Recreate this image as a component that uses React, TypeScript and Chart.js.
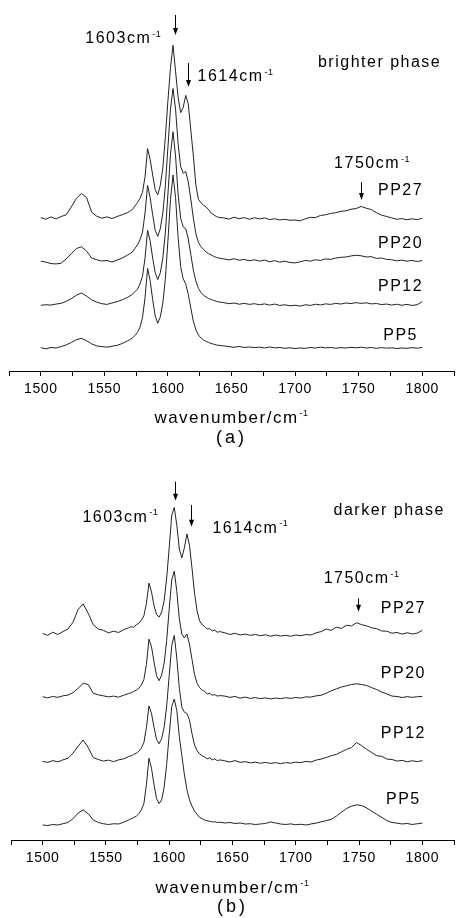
import React, { useEffect, useRef } from "react";
import { Chart, registerables } from "chart.js";

Chart.register(...registerables);

// ---------- data ----------
const wavenumbers = [
  1500, 1504, 1508, 1512, 1516, 1520, 1524, 1528, 1532, 1536, 1540, 1544, 1548, 1552, 1556, 1560, 1564, 1568,
  1570, 1572, 1574, 1576, 1578, 1580, 1582, 1584, 1586, 1588, 1590, 1592, 1594, 1596, 1598, 1600, 1602, 1604,
  1606, 1608, 1610, 1612, 1614, 1616, 1618, 1620, 1622, 1624, 1626, 1628, 1630, 1632, 1634, 1636, 1638, 1640,
  1644, 1648, 1652, 1656, 1660, 1664, 1668, 1672, 1676, 1680, 1684, 1688, 1692, 1696, 1700, 1704, 1708, 1712,
  1716, 1720, 1724, 1728, 1732, 1736, 1740, 1744, 1748, 1752, 1756, 1760, 1764, 1768, 1772, 1776, 1780, 1784,
  1788, 1792, 1796, 1800,
];

const seriesNames = ["PP27", "PP20", "PP12", "PP5"];

// brighter phase (a)
const brightPP27 = [
  0.4, -0.6, 0.8, -0.4, 1.0, 2.0, 6.5, 11.5, 14.3, 12.0, 3.5, 1.2, 0.0, 0.8, -0.2, 1.0, 2.0, 3.2,
  4.0, 5.0, 7.0, 9.0, 11.5, 15.0, 24.0, 40.3, 34.0, 25.0, 16.5, 13.5, 19.0, 29.0, 47.0, 68.0, 87.0, 100.0,
  85.0, 70.0, 61.0, 64.0, 71.0, 66.0, 51.0, 36.0, 19.0, 11.0, 9.0, 7.5, 6.5, 5.0, 3.0, 2.0, 1.0, 0.5,
  0.2, -0.5, 0.6, -0.3, 0.4, -0.6, 0.3, -0.4, 0.2, -0.8, -0.3, -1.0, -0.6, -1.2, -1.0, -1.5, -0.3, 0.5,
  0.4, 1.6, 2.0, 2.8, 3.2, 4.0, 4.3, 5.2, 5.6, 6.8, 5.8, 5.0, 3.2, 1.8, 1.0, 0.2, -0.6, -0.2,
  -0.9, -0.3, -0.8, 0.0,
];
const brightPP20 = [
  0.2, -0.4, -1.2, -1.4, -1.0, 1.5, 4.5, 7.5, 8.5, 6.0, 2.0, 1.0, 0.3, 0.6, -0.3, 0.8, 2.0, 3.6,
  4.5, 5.5, 7.5, 9.5, 12.5, 17.0, 28.0, 44.0, 37.0, 27.0, 18.0, 14.5, 19.0, 28.0, 44.0, 66.0, 88.0, 100.0,
  88.0, 68.0, 55.0, 51.0, 52.0, 46.0, 36.0, 25.0, 16.0, 11.0, 8.5, 7.0, 5.5, 4.5, 3.8, 3.0, 2.4, 2.0,
  1.5, 0.9, 1.6, 0.7, 1.2, 0.4, 1.0, 0.2, 0.8, -0.2, 0.5, -0.4, 0.2, -0.6, -0.8, -0.2, 0.6, 0.2,
  1.0, 0.6, 1.5, 1.2, 2.0, 2.4, 2.6, 3.2, 3.6, 3.3, 2.6, 2.8, 1.8, 2.0, 1.2, 1.0, 0.4, 0.8,
  0.2, 0.6, 0.0, 0.5,
];
const brightPP12 = [
  -0.3, 0.0, -0.2, 0.4, 0.8, 2.0, 3.5, 5.5, 6.8, 5.0, 2.8, 1.5, 0.6, 0.2, 1.0, 1.8, 2.8, 4.2,
  5.0, 6.0, 7.5, 9.0, 12.0, 16.5, 27.0, 43.0, 37.0, 27.0, 18.5, 14.5, 18.5, 27.0, 42.0, 64.0, 87.0, 100.0,
  86.0, 64.0, 50.0, 45.0, 44.0, 38.0, 29.0, 20.0, 13.5, 9.5, 7.0, 5.5, 4.5, 3.6, 3.0, 2.5, 2.0, 1.6,
  1.2, 0.6, 1.0, 0.3, 0.8, 0.2, 0.6, 0.0, 0.5, -0.2, 0.4, -0.4, 0.0, -0.6, -0.3, -0.8, 0.0, -0.4,
  0.3, -0.1, 0.5, 0.2, 0.8, 0.4, 1.0, 0.7, 1.2, 0.8, 1.1, 0.5, 0.7, 0.1, 0.4, -0.2, 0.3, -0.3,
  0.2, -0.4, 0.0, 1.8,
];
const brightPP5 = [
  0.2, -0.5, 0.3, 0.0, 0.8, 1.8, 3.2, 4.8, 5.6, 4.2, 2.4, 1.2, 0.8, 0.5, 1.0, 1.5, 2.6, 4.0,
  4.8, 5.8, 7.2, 9.0, 12.0, 17.5, 29.0, 46.0, 39.0, 28.0, 18.5, 14.3, 18.0, 26.0, 40.0, 62.0, 86.0, 100.0,
  87.0, 64.0, 47.0, 40.0, 37.0, 31.0, 23.0, 15.5, 10.5, 7.5, 5.8, 4.6, 3.8, 3.2, 2.6, 2.2, 1.8, 1.5,
  1.2, 0.8, 0.4, 0.9, 0.3, 0.6, 0.2, 0.5, 0.0, 0.6, 0.1, 0.3, -0.2, 0.1, -0.3, 0.0, -0.2, 0.3,
  0.0, 0.5, 0.1, 0.3, -0.1, 0.2, 0.0, 0.4, 0.1, 0.5, 0.0, 0.3, -0.2, 0.2, -0.1, 0.1, -0.3, 0.0,
  -0.2, 0.2, -0.1, 0.3,
];

// darker phase (b)
const darkPP27 = [
  0.0, -1.5, 1.0, -0.8, 1.5, 3.5, 9.0, 19.0, 23.5, 16.0, 7.0, 3.5, 2.5, 0.5, 1.8, 0.8, 3.0, 4.5,
  5.5, 4.8, 7.0, 8.0, 10.5, 14.0, 24.0, 40.0, 33.0, 22.0, 15.0, 13.0, 17.0, 26.0, 44.0, 68.0, 94.0, 100.0,
  86.0, 67.0, 60.0, 68.0, 79.0, 70.0, 52.0, 32.0, 18.0, 10.0, 7.0, 5.5, 3.5, 3.8, 2.0, 2.6, 1.0, 1.5,
  0.5, -0.8, 0.2, -1.2, -0.5, -1.5, -0.8, -1.8, -1.0, -2.2, -1.2, -2.0, -1.4, -2.2, -1.2, -1.8, -0.8, -1.2,
  0.5, 1.5, 3.5, 2.5, 5.0, 4.0, 6.5, 6.0, 8.5, 7.0, 6.0, 4.5, 3.8, 2.0, 1.8, 0.2, 0.8, -0.5,
  0.6, -0.4, 0.3, 2.5,
];
const darkPP20 = [
  0.3, -0.6, 0.5, -0.2, 1.0, 1.6, 3.5, 7.0, 11.0, 10.0, 3.0, 1.8, 1.0, 0.2, 0.8, 0.0, 1.5, 2.8,
  3.5, 4.5, 5.5, 7.0, 9.5, 14.0, 26.0, 46.0, 40.0, 28.0, 17.0, 13.0, 17.5, 27.0, 45.0, 70.0, 93.0, 100.0,
  84.0, 62.0, 50.0, 47.0, 50.0, 42.0, 30.0, 18.0, 11.0, 7.5, 5.5, 4.5, 2.5, 3.0, 1.5, 2.0, 0.8, 1.2,
  0.8, -0.2, 0.5, -0.8, 0.0, -1.0, -0.4, -1.2, -0.6, -1.4, -0.8, -1.2, -0.5, -1.0, -0.3, -0.8, 0.2, 0.0,
  1.0, 1.5, 3.0, 5.0, 6.5, 8.0, 9.0, 10.0, 10.6, 10.0, 9.2, 7.5, 6.0, 4.0, 2.5, 0.8, 0.5, -0.3,
  0.4, -0.2, 0.3, 0.6,
];
const darkPP12 = [
  0.0, -0.8, 0.6, -0.4, 1.2, 2.5, 6.5, 12.0, 17.0, 11.0, 3.0, 1.5, 0.2, 1.0, -0.2, 1.2, 2.0, 3.8,
  4.5, 5.5, 6.5, 8.0, 10.5, 15.0, 27.0, 44.0, 38.0, 27.0, 17.5, 14.0, 18.0, 27.0, 44.0, 68.0, 92.0, 100.0,
  82.0, 58.0, 43.0, 39.0, 38.0, 33.0, 22.0, 13.0, 8.5, 6.0, 4.5, 3.5, 2.0, 2.8, 1.2, 2.0, 0.5, 1.2,
  0.4, -0.5, 0.6, -0.8, -0.2, -1.2, -0.6, -1.5, -0.8, -1.6, -1.0, -1.8, -1.0, -1.4, -0.6, -1.0, 0.0, -0.5,
  1.0, 1.8, 3.0, 4.5, 5.5, 7.5, 9.5, 11.0, 15.0, 12.5, 9.5, 7.0, 4.5, 4.0, 1.8, 1.5, 0.2, 0.8,
  -0.3, 0.5, -0.2, 0.6,
];
const darkPP5 = [
  0.0, -0.4, 0.4, 0.0, 1.0, 2.0, 5.0, 9.5, 12.0, 9.0, 4.0, 2.0, 1.0, 0.4, 1.0, 0.8, 2.2, 4.0,
  5.0, 6.0, 7.0, 9.0, 12.0, 17.0, 32.0, 53.0, 45.0, 32.0, 21.0, 17.0, 20.0, 30.0, 48.0, 72.0, 94.0, 100.0,
  91.0, 70.0, 55.0, 40.0, 28.0, 20.0, 15.0, 11.0, 8.5, 6.0, 5.0, 4.0, 3.4, 3.0, 2.4, 2.6, 2.0, 2.2,
  1.6, 2.0, 1.2, 1.6, 0.8, 1.0, 0.4, 0.8, 1.2, 2.4, 1.6, 0.8, 0.4, 0.9, 0.2, 0.6, 0.0, 0.8,
  1.5, 2.5, 3.5, 4.5, 7.0, 10.0, 13.0, 15.0, 16.0, 15.5, 13.5, 11.0, 8.5, 6.0, 3.5, 2.0, 1.5, 0.8,
  1.2, 0.4, 1.0, 1.5,
];

// vertical stacking offsets (same order as seriesNames)
const offsetsBright = [75, 50, 25, 0];
const offsetsDark = [152, 101.5, 50.5, 0];

// axis
const xMin = 1475;
const xMax = 1825;
const xStep = 25;
const xLabelValues = [1500, 1550, 1600, 1650, 1700, 1750, 1800];

// annotations (data coordinates)
const brightTexts = [
  { text: "1603cm", sup: "-1", x: 1535.0, y: 176.1, align: "left" },
  { text: "1614cm", sup: "-1", x: 1623.3, y: 154.3, align: "left" },
  { text: "brighter phase", sup: "", x: 1718.0, y: 162.7, align: "left" },
  { text: "1750cm", sup: "-1", x: 1730.7, y: 103.9, align: "left" },
  { text: "PP27", sup: "", x: 1783, y: 88.4, align: "center" },
  { text: "PP20", sup: "", x: 1783, y: 57.8, align: "center" },
  { text: "PP12", sup: "", x: 1783, y: 32.9, align: "center" },
  { text: "PP5", sup: "", x: 1783, y: 4.6, align: "center" },
];
const brightArrows = [
  { x: 1605.7, from: 192.5, to: 180.9 },
  { x: 1616.1, from: 164.7, to: 150.9 },
  { x: 1751.7, from: 95.9, to: 85.5 },
];
const darkTexts = [
  { text: "1603cm", sup: "-1", x: 1531.4, y: 240.7, align: "left" },
  { text: "1614cm", sup: "-1", x: 1634.1, y: 232.0, align: "left" },
  { text: "darker phase", sup: "", x: 1729.8, y: 246.0, align: "left" },
  { text: "1750cm", sup: "-1", x: 1722.0, y: 191.8, align: "left" },
  { text: "PP27", sup: "", x: 1785, y: 168.0, align: "center" },
  { text: "PP20", sup: "", x: 1785, y: 116.4, align: "center" },
  { text: "PP12", sup: "", x: 1785, y: 69.3, align: "center" },
  { text: "PP5", sup: "", x: 1785, y: 16.4, align: "center" },
];
const darkArrows = [
  { x: 1604.5, from: 272.5, to: 257.4 },
  { x: 1617.6, from: 254.0, to: 236.8 },
  { x: 1749.5, from: 179.9, to: 169.3 },
];

// ---------- drawing helpers ----------
const FAMILY = '"Liberation Sans", Arial, Helvetica, sans-serif';
const MAIN_FONT = `16px ${FAMILY}`;
const SUP_FONT = `9px ${FAMILY}`;
const TITLE_FONT = `17px ${FAMILY}`;
const PANEL_FONT = `18px ${FAMILY}`;

function drawLabel(
  ctx: any,
  x: number,
  y: number,
  main: string,
  sup: string,
  align: string,
  font: string,
  spacing: string,
  supRaise: number
) {
  ctx.font = font;
  ctx.letterSpacing = spacing;
  const wm = ctx.measureText(main).width;
  let ws = 0;
  if (sup) {
    ctx.font = SUP_FONT;
    ctx.letterSpacing = "0.5px";
    ws = ctx.measureText(sup).width + 1;
  }
  const total = wm + ws;
  const x0 = align === "center" ? x - total / 2 : x;
  ctx.textAlign = "left";
  ctx.textBaseline = "alphabetic";
  ctx.font = font;
  ctx.letterSpacing = spacing;
  ctx.fillText(main, x0, y);
  if (sup) {
    ctx.font = SUP_FONT;
    ctx.letterSpacing = "0.5px";
    ctx.fillText(sup, x0 + wm + 1, y - supRaise);
  }
}

const annotPlugin = {
  id: "annot",
  beforeDraw(chart: any) {
    chart.ctx.letterSpacing = "0.6px";
  },
  afterDraw(chart: any, _args: any, opts: any) {
    const { ctx, chartArea } = chart;
    const xs = chart.scales.x;
    const ys = chart.scales.y;
    ctx.save();
    ctx.fillStyle = "#000";
    ctx.strokeStyle = "#000";
    for (const t of opts.texts || []) {
      drawLabel(
        ctx,
        xs.getPixelForValue(t.x),
        ys.getPixelForValue(t.y),
        t.text,
        t.sup,
        t.align,
        MAIN_FONT,
        "1.5px",
        6.5
      );
    }
    for (const a of opts.arrows || []) {
      const px = Math.round(xs.getPixelForValue(a.x)) + 0.5;
      const y1 = ys.getPixelForValue(a.from);
      const y2 = ys.getPixelForValue(a.to);
      ctx.lineWidth = 1;
      ctx.beginPath();
      ctx.moveTo(px, y1);
      ctx.lineTo(px, y2 - 5);
      ctx.stroke();
      ctx.beginPath();
      ctx.moveTo(px - 2.5, y2 - 7);
      ctx.lineTo(px + 2.5, y2 - 7);
      ctx.lineTo(px, y2);
      ctx.closePath();
      ctx.fill();
    }
    const cx = (chartArea.left + chartArea.right) / 2;
    drawLabel(
      ctx,
      cx,
      chartArea.bottom + opts.titleOffset,
      "wavenumber/cm",
      "-1",
      "center",
      TITLE_FONT,
      "1.5px",
      7
    );
    drawLabel(
      ctx,
      cx,
      chartArea.bottom + opts.panelOffset,
      opts.panelLabel,
      "",
      "center",
      PANEL_FONT,
      "3px",
      0
    );
    ctx.restore();
  },
};

type PanelCfg = {
  series: number[][];
  offsets: number[];
  yMin: number;
  yMax: number;
  padLeft: number;
  padRight: number;
  padTop: number;
  axisHeight: number;
  texts: any[];
  arrows: any[];
  titleOffset: number;
  panelOffset: number;
  panelLabel: string;
};

function Panel({ cfg }: { cfg: PanelCfg }) {
  const ref = useRef<HTMLCanvasElement | null>(null);
  useEffect(() => {
    if (!ref.current) return;
    const datasets = cfg.series.map((vals, i) => ({
      label: seriesNames[i],
      data: wavenumbers.map((w, j) => ({ x: w, y: vals[j] + cfg.offsets[i] })),
      borderColor: "#222",
      borderWidth: 1,
      pointRadius: 0,
      tension: 0,
      fill: false,
    }));
    const chart = new Chart(ref.current, {
      type: "line",
      data: { datasets },
      options: {
        animation: false,
        responsive: false,
        devicePixelRatio: 1,
        events: [],
        layout: {
          padding: { left: cfg.padLeft, right: cfg.padRight, top: cfg.padTop, bottom: 0 },
        },
        plugins: {
          legend: { display: false },
          tooltip: { enabled: false },
          annot: {
            texts: cfg.texts,
            arrows: cfg.arrows,
            titleOffset: cfg.titleOffset,
            panelOffset: cfg.panelOffset,
            panelLabel: cfg.panelLabel,
          },
        } as any,
        scales: {
          x: {
            type: "linear",
            min: xMin,
            max: xMax,
            afterFit: (s: any) => {
              s.height = cfg.axisHeight;
            },
            ticks: {
              stepSize: xStep,
              autoSkip: false,
              maxRotation: 0,
              minRotation: 0,
              padding: 5,
              color: "#000",
              font: { family: FAMILY, size: 14 },
              callback: (v: any) => (xLabelValues.includes(Number(v)) ? String(v) : ""),
            },
            grid: {
              display: true,
              drawOnChartArea: false,
              drawTicks: true,
              tickLength: 5,
              color: "#000",
              lineWidth: 1,
            },
            border: { display: true, color: "#000", width: 1 },
          },
          y: { display: false, min: cfg.yMin, max: cfg.yMax },
        },
      } as any,
      plugins: [annotPlugin as any],
    });
    return () => chart.destroy();
  }, [cfg]);
  return <canvas ref={ref} width={459} height={459} style={{ display: "block", width: 459, height: 459 }} />;
}

const panelA: PanelCfg = {
  series: [brightPP27, brightPP20, brightPP12, brightPP5],
  offsets: offsetsBright,
  yMin: -13.3,
  yMax: 195.37,
  padLeft: 9,
  padRight: 1,
  padTop: 10,
  axisHeight: 88,
  texts: brightTexts,
  arrows: brightArrows,
  titleOffset: 52,
  panelOffset: 72,
  panelLabel: "(a)",
};

const panelB: PanelCfg = {
  series: [darkPP27, darkPP20, darkPP12, darkPP5],
  offsets: offsetsDark,
  yMin: -11.9,
  yMax: 282.54,
  padLeft: 11,
  padRight: 3,
  padTop: 10,
  axisHeight: 78,
  texts: darkTexts,
  arrows: darkArrows,
  titleOffset: 53,
  panelOffset: 72,
  panelLabel: "(b)",
};

export default function App() {
  return (
    <div style={{ position: "absolute", left: 0, top: 0, width: 459, height: 918, background: "#fff" }}>
      <Panel cfg={panelA} />
      <Panel cfg={panelB} />
    </div>
  );
}
